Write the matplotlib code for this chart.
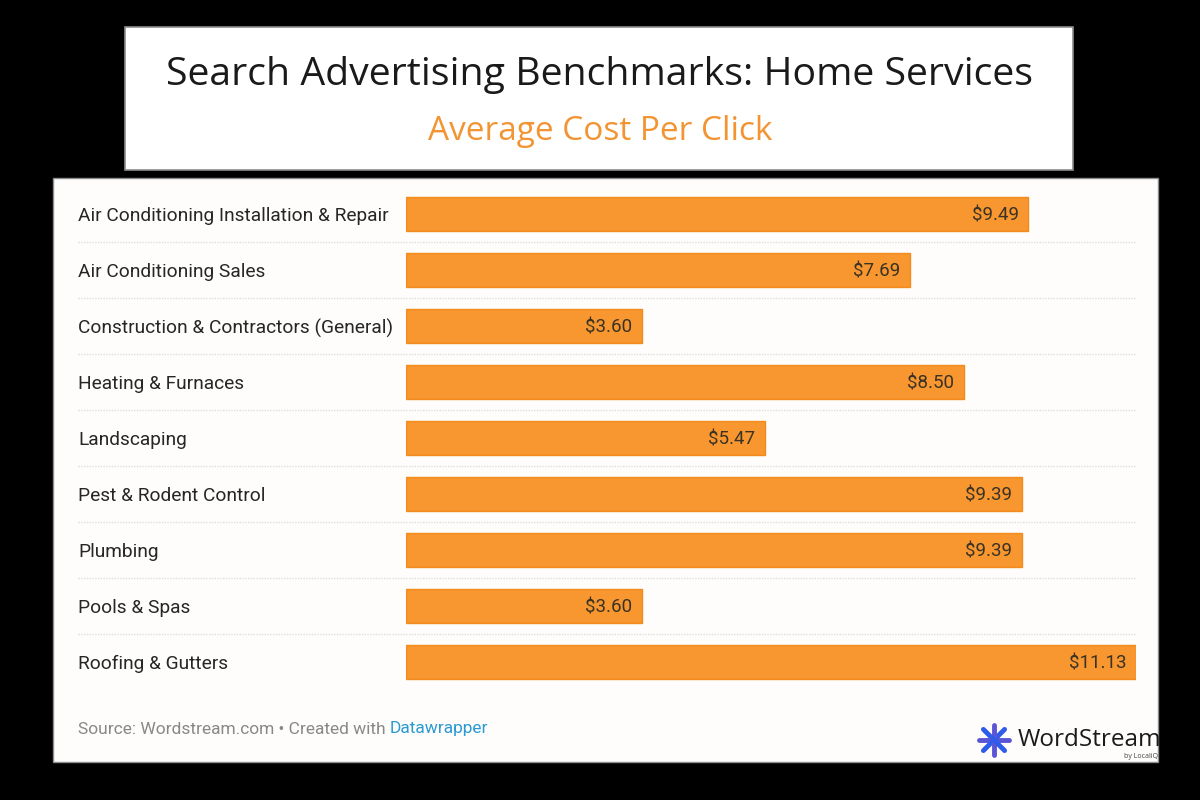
import math
import matplotlib.pyplot as plt
from matplotlib.patches import Rectangle
from matplotlib.transforms import blended_transform_factory

# Data
categories = [
    "Air Conditioning Installation & Repair",
    "Air Conditioning Sales",
    "Construction & Contractors (General)",
    "Heating & Furnaces",
    "Landscaping",
    "Pest & Rodent Control",
    "Plumbing",
    "Pools & Spas",
    "Roofing & Gutters",
]
cpc = [9.49, 7.69, 3.60, 8.50, 5.47, 9.39, 9.39, 3.60, 11.13]

W, H = 1200, 800
bar_color = "#F8962F"

fig = plt.figure(figsize=(12, 8), dpi=100, facecolor="black")

# white title card and chart card (behind the axes)
fig.patches.append(Rectangle((125 / W, 1 - 170 / H), 948 / W, 143 / H,
                             transform=fig.transFigure, facecolor="white",
                             edgecolor="#8c8c8c", linewidth=1.2, zorder=-1))
fig.patches.append(Rectangle((53 / W, 1 - 762 / H), 1105 / W, 584 / H,
                             transform=fig.transFigure, facecolor="#fefdfc",
                             edgecolor="#8c8c8c", linewidth=1, zorder=-1))

fig.text(0.5, 1 - 75 / H, "Search Advertising Benchmarks: Home Services",
         ha="center", va="center", fontsize=28.3, color="#1a1a1a",
         family="Open Sans")
fig.text(0.5, 1 - 131 / H, "Average Cost Per Click", ha="center", va="center",
         fontsize=24, color="#F39433", family="Open Sans")

ax = fig.add_axes([406 / W, 1 - 690 / H, 730 / W, 504 / H])
ax.set_zorder(2)
ax.set_facecolor("none")
y = range(len(categories))
ax.barh(y, cpc, height=0.61, color=bar_color, edgecolor="#F28A1E", linewidth=1)
ax.set_xlim(0, max(cpc))
ax.set_ylim(len(categories) - 0.5, -0.5)
ax.axis("off")

# dotted row separators that run under the labels too
x_left = -(406 - 78) / 730 * max(cpc)
ax.hlines([i + 0.5 for i in range(len(categories) - 1)], x_left, max(cpc),
          colors="#dddddd", linewidth=1, linestyles=(0, (1, 1)), clip_on=False)

trans = blended_transform_factory(ax.transAxes, ax.transData)
for i, (cat, v) in enumerate(zip(categories, cpc)):
    ax.text(-(406 - 78) / 730, i, cat, transform=trans, ha="left",
            va="center_baseline", fontsize=13.75, color="#262626",
            family="Roboto")
    ax.annotate(f"${v:.2f}", (v, i), xytext=(-7, 0), textcoords="offset points",
                ha="right", va="center_baseline", fontsize=13.5,
                color="#3a3325", family="Roboto")

# footer
src = fig.text(78 / W, 1 - 729 / H, "Source: Wordstream.com \u2022 Created with ",
               ha="left", va="center", fontsize=12.5, color="#888888",
               family="Roboto")
fig.canvas.draw()
bb = src.get_window_extent()
fig.text(bb.x1 / W, 1 - 729 / H, "Datawrapper", ha="left", va="center",
         fontsize=12.5, color="#2A9AD0", family="Roboto")

# WordStream logo
fig.text(1018 / W, 1 - 740 / H, "WordStream", ha="left", va="center",
         fontsize=17.5, color="#1a1a1a", family="Open Sans")
fig.text(1158 / W, 1 - 757 / H, "by LocaliQ", ha="right", va="center",
         fontsize=5, color="#444444", family="Open Sans")
cx, cy = 994 / W, 1 - 740 / H
for k in range(8):
    a = math.pi * k / 4
    dx, dy = 15 * math.cos(a) / W, 15 * math.sin(a) / H
    fig.add_artist(plt.Line2D([cx, cx + dx], [cy, cy + dy],
                              transform=fig.transFigure,
                              color="#2F5BEA" if k % 2 else "#5B55D6",
                              linewidth=3.5, solid_capstyle="round"))

fig.savefig("out.png", dpi=100, facecolor="black")
